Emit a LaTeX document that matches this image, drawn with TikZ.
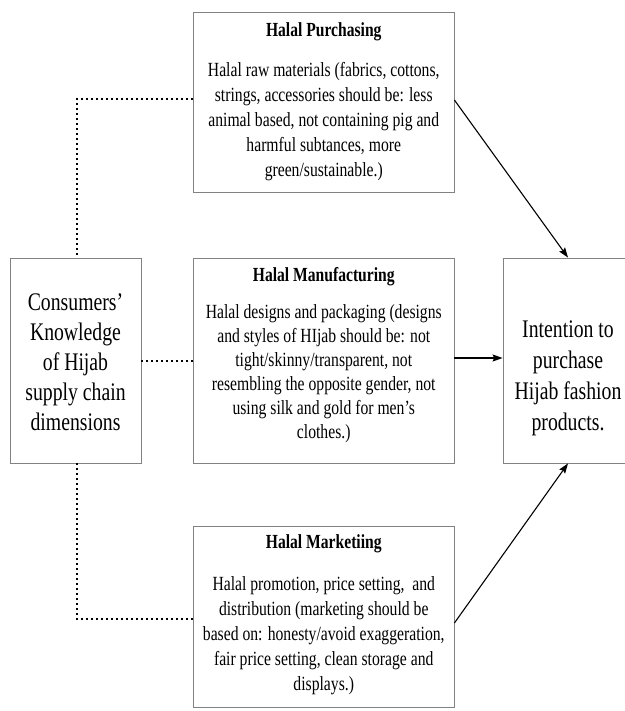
\documentclass[tikz,border=0pt]{standalone}
\usepackage{fontspec}
\setmainfont{Liberation Serif}
\newfontfamily\tnr[FakeStretch=0.78]{Liberation Serif}
\usetikzlibrary{arrows.meta}
\definecolor{boxgray}{RGB}{130,130,130}
\begin{document}
\begin{tikzpicture}[x=1pt,y=-1pt,
  box/.style={draw=boxgray, line width=0.8pt, inner sep=0pt, rectangle},
  txt/.style={anchor=base, inner sep=0pt},
  dots/.style={line width=2pt, dash pattern=on 2pt off 3pt},
  arr/.style={line width=1.1pt, -{Stealth[length=10pt,width=7pt,inset=1.5pt]}}]
\fill[white] (0,0) rectangle (624,711);
\useasboundingbox (0,0) rectangle (624,711);
% boxes
\node[box, minimum width=260.5pt, minimum height=180pt] (top) at (323.75,102) {};
\node[box, minimum width=260.5pt, minimum height=205pt] (mid) at (323.75,360.5) {};
\node[box, minimum width=260.5pt, minimum height=181pt] (bot) at (323.75,616.5) {};
\node[box, minimum width=131pt, minimum height=205pt] (left) at (75.5,360.5) {};
\node[box, minimum width=130pt, minimum height=205pt] (right) at (568,360.5) {};
% texts
\node[txt] (toptitle) at (323.75,37) {\tnr\fontsize{20}{25}\selectfont\bfseries Halal Purchasing};
\node[txt] (topbody) at (323.75,77) {\parbox[t]{258pt}{\centering\tnr\fontsize{20.1}{25}\selectfont
Halal raw materials (fabrics, cottons,\\
strings, accessories should be: less\\
animal based, not containing pig and\\
harmful subtances, more\\
green/sustainable.)}};
\node[txt] (midtitle) at (323.75,281) {\tnr\fontsize{20}{25}\selectfont\bfseries Halal Manufacturing};
\node[txt] (midbody) at (323.75,318) {\parbox[t]{258pt}{\centering\tnr\fontsize{20.1}{24}\selectfont
Halal designs and packaging (designs\\
and styles of HIjab should be: not\\
tight/skinny/transparent, not\\
resembling the opposite gender, not\\
using silk and gold for men’s\\
clothes.)}};
\node[txt] (bottitle) at (323.75,548) {\tnr\fontsize{20}{25}\selectfont\bfseries Halal Marketiing};
\node[txt] (botbody) at (323.75,590) {\parbox[t]{258pt}{\centering\tnr\fontsize{20.1}{25}\selectfont
Halal promotion, price setting,~ and\\
distribution (marketing should be\\
based on: honesty/avoid exaggeration,\\
fair price setting, clean storage and\\
displays.)}};
\node[txt] (lefttext) at (75.5,310) {\parbox[t]{128pt}{\centering\tnr\fontsize{25.3}{30}\selectfont
Consumers’\\
Knowledge\\
of Hijab\\
supply chain\\
dimensions}};
\node[txt] (righttext) at (568,337) {\parbox[t]{128pt}{\centering\tnr\fontsize{25.3}{31}\selectfont
Intention to\\
purchase\\
Hijab fashion\\
products.}};
% dotted connectors
\coordinate (tl) at (77,99);
\coordinate (bl) at (77,619);
\draw[dots] (tl -| top.west) -- (tl) -- (tl |- left.north);
\draw[dots] (bl |- left.south) -- (bl) -- (bl -| bot.west);
\draw[dots] (left.east) -- (mid.west);
% arrows
\draw[arr] ([yshift=2pt]top.east) -- (right.north);
\draw[arr] ([yshift=2.5pt]mid.east) -- ([yshift=2.5pt]right.west);
\draw[arr] ([yshift=-6.5pt]bot.east) -- (right.south);
\end{tikzpicture}
\end{document}
